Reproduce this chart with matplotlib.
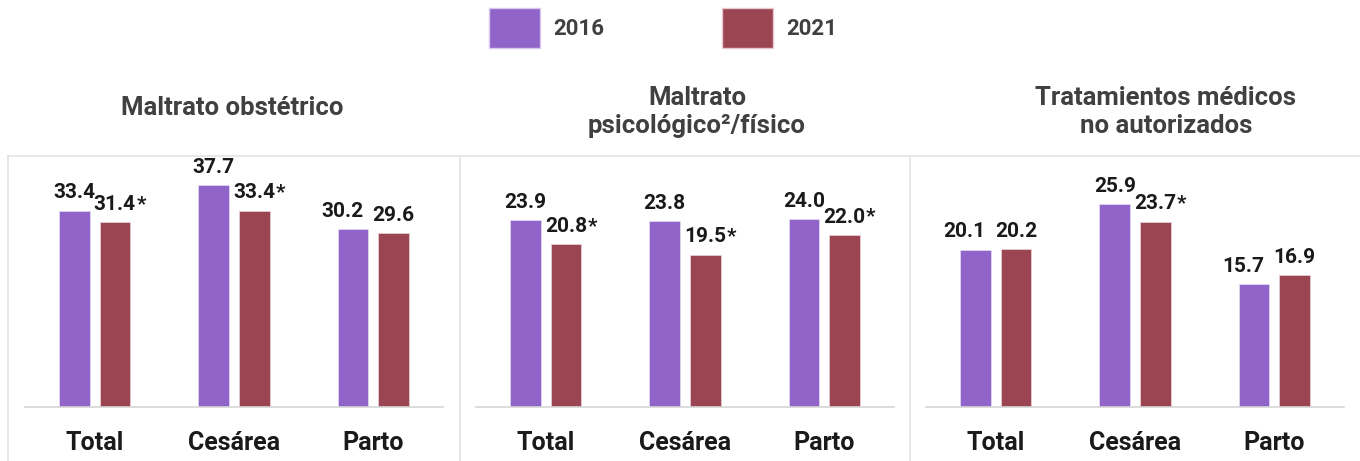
import matplotlib
matplotlib.use("Agg")
import matplotlib.pyplot as plt
from matplotlib.patches import Patch
from matplotlib.lines import Line2D

plt.rcParams['font.family'] = ['Roboto', 'DejaVu Sans']

categories = ["Total", "Cesárea", "Parto"]
years = ["2016", "2021"]
titles = ["Maltrato obstétrico", "Maltrato\npsicológico²/físico", "Tratamientos médicos\nno autorizados"]
vals_2016 = [[33.4, 37.7, 30.2], [23.9, 23.8, 24.0], [20.1, 25.9, 15.7]]
vals_2021 = [[31.4, 33.4, 29.6], [20.8, 19.5, 22.0], [20.2, 23.7, 16.9]]
sig_2021 = [[True, True, False], [True, True, True], [False, True, False]]
ylims = [42.7, 32.1, 32.1]

C16 = "#9064C8"
C21 = "#9B4553"
W, H = 1360, 461
fig = plt.figure(figsize=(W / 100, H / 100), dpi=100)

panel_x = [(25, 443), (476, 894), (926, 1344)]
base_y, top_y = 407, 156
title_cx = [232, 697, 1166]
title_cy = [108, 112, 112]

border = "#e3e3e3"
fig.add_artist(Line2D([8 / W, 1], [1 - top_y / H] * 2, color=border, lw=1.2, transform=fig.transFigure))
for xb in [8, 460, 910]:
    fig.add_artist(Line2D([xb / W] * 2, [0, 1 - top_y / H], color=border, lw=1.2, transform=fig.transFigure))

bw = 0.22
off = 0.145
label_pairs = []
for i in range(3):
    x0, x1 = panel_x[i]
    ax = fig.add_axes([x0 / W, 1 - base_y / H, (x1 - x0) / W, (base_y - top_y) / H])
    xs = list(range(len(categories)))
    ax.bar([x - off for x in xs], vals_2016[i], width=bw, color=C16, edgecolor="#e6dcf2", linewidth=0.5)
    ax.bar([x + off for x in xs], vals_2021[i], width=bw, color=C21, edgecolor="#ecd6da", linewidth=0.5)
    for j in xs:
        t1 = ax.annotate(f"{vals_2016[i][j]:.1f}", (j - off, vals_2016[i][j]), xytext=(0, 6),
                         textcoords="offset points", ha="center", va="bottom",
                         fontsize=15, fontweight="bold", color="#1a1a1a")
        t2 = ax.annotate(f"{vals_2021[i][j]:.1f}", (j + off, vals_2021[i][j]), xytext=(0, 6),
                         textcoords="offset points", ha="center", va="bottom",
                         fontsize=15, fontweight="bold", color="#1a1a1a")
        if sig_2021[i][j]:
            ax.annotate("*", xy=(1, 1), xycoords=t2, xytext=(0.3, 0), textcoords="offset points",
                        ha="left", va="top", fontsize=15, fontweight="bold", color="#1a1a1a")
        label_pairs.append((ax, t1, t2, vals_2016[i][j], vals_2021[i][j]))
    ax.set_xlim(-0.5, 2.5)
    ax.set_ylim(0, ylims[i])
    ax.set_xticks(xs)
    ax.set_xticklabels(categories, fontsize=18, fontweight="bold", color="#1a1a1a")
    ax.tick_params(axis="x", length=0, pad=17.5)
    ax.set_yticks([])
    for s in ["top", "left", "right"]:
        ax.spines[s].set_visible(False)
    ax.spines["bottom"].set_color("#d6d6d6")
    ax.spines["bottom"].set_linewidth(1.2)
    ax.patch.set_alpha(0)
    fig.text(title_cx[i] / W, 1 - title_cy[i] / H, titles[i], ha="center", va="center",
             fontsize=18.5, fontweight="bold", color="#404040", linespacing=1.25)

handles = [Patch(facecolor=C16, edgecolor="#d8c8ee"), Patch(facecolor=C21, edgecolor="#e8c8ce")]
leg = fig.legend(handles, years, loc="center", bbox_to_anchor=(663 / W, 1 - 28 / H), ncol=2,
                 frameon=False, handlelength=2.3, handleheight=2.4, handletextpad=0.6,
                 columnspacing=5.3, prop={"family": "Roboto", "weight": "bold", "size": 16})
for t in leg.get_texts():
    t.set_color("#404040")

# nudge colliding value labels apart (2016 label moves left) when bar tops are close
fig.canvas.draw()
r = fig.canvas.get_renderer()
min_gap = 9
for ax, t1, t2, v1, v2 in label_pairs:
    dy_px = abs(ax.transData.transform((0, v1))[1] - ax.transData.transform((0, v2))[1])
    if dy_px < 10:
        b1 = t1.get_window_extent(r)
        b2 = t2.get_window_extent(r)
        gap = b2.x0 - b1.x1
        if gap < min_gap:
            shift_px = min_gap - gap
            t1.xyann = (-shift_px * 72 / fig.dpi, 6)

fig.savefig("out.png", dpi=100)
